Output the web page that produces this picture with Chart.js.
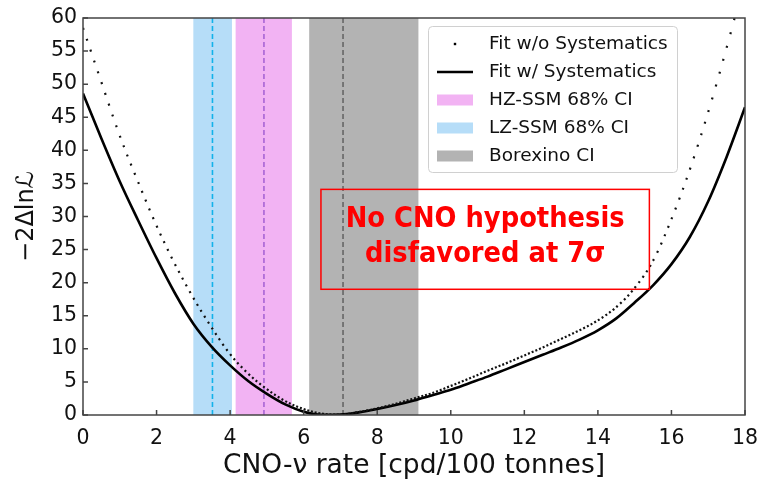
<!DOCTYPE html>
<html>
<head>
<meta charset="utf-8">
<title>CNO-nu likelihood profile</title>
<script src="https://cdn.jsdelivr.net/npm/chart.js@4.4.0/dist/chart.umd.min.js"></script>
<style>
  html, body { margin: 0; padding: 0; background: #fff; }
  #wrap { width: 761px; height: 480px; }
</style>
</head>
<body>
<div id="wrap"><canvas id="likelihoodChart" width="761" height="480"></canvas></div>
<script>
// CNO-nu rate grid [cpd/100 tonnes]
const rates = [0, 0.5, 1, 1.5, 2, 2.5, 3, 3.5, 4, 4.5, 5, 5.5, 6, 6.5, 7, 7.5, 8, 8.5, 9,
  9.5, 10, 10.5, 11, 11.5, 12, 12.5, 13, 13.5, 14, 14.5, 15, 15.5, 16, 16.5, 17, 17.5, 18];

// -2 Delta ln L profiles
const fitWithSyst = [48.6, 41.8, 35.3, 29.4, 23.7, 18.4, 13.8, 10.3, 7.5, 5.1, 3.2, 1.6, 0.5, 0.03,
  0.06, 0.4, 0.9, 1.5, 2.2, 3.0, 3.8, 4.8, 5.8, 6.9, 8.0, 9.1, 10.2, 11.4, 12.8, 14.6, 17.0,
  19.6, 22.8, 26.9, 32.3, 39.0, 46.5];
const fitWithoutSyst = [58.5, 50.3, 42.2, 35.2, 28.6, 22.8, 17.7, 13.2, 9.2, 6.2, 3.9, 2.1, 0.9, 0.2,
  0.05, 0.45, 1.0, 1.7, 2.5, 3.3, 4.4, 5.5, 6.7, 7.8, 9.0, 10.2, 11.5, 12.8, 14.3, 16.3, 19.2,
  23.3, 29.6, 37.1, 45.8, 55.5, 66.0];

// confidence intervals on the rate
const bandLabels = ['HZ-SSM 68% CI', 'LZ-SSM 68% CI', 'Borexino CI'];
const bandLow = [4.15, 3.0, 6.15];
const bandCentre = [4.92, 3.52, 7.07];
const bandHigh = [5.68, 4.05, 9.12];
const bandFill = ['#f2b3f3', '#b6ddf8', '#b3b3b3'];
const bandLine = ['#a865d4', '#12b2ea', '#666666'];

const xTicks = [0, 2, 4, 6, 8, 10, 12, 14, 16, 18];
const yTicks = [0, 5, 10, 15, 20, 25, 30, 35, 40, 45, 50, 55, 60];

const noteLines = ['No CNO hypothesis', 'disfavored at 7\u03c3'];
const noteBox = { x0: 6.47, x1: 15.4, y0: 19.0, y1: 34.1 };

const FONT = "'DejaVu Sans', sans-serif";
const DOTS_PER_STEP = 5; // markers every 0.1 of rate, grid step is 0.5

// shaded intervals and their central values, under the curves
const bandPlugin = {
  id: 'bands',
  beforeDatasetsDraw(chart) {
    const { ctx, chartArea: a, scales: { x } } = chart;
    ctx.save();
    bandLabels.forEach((_, i) => {
      const x0 = x.getPixelForValue(bandLow[i]);
      const x1 = x.getPixelForValue(bandHigh[i]);
      ctx.fillStyle = bandFill[i];
      ctx.fillRect(x0, a.top, x1 - x0, a.bottom - a.top);
    });
    ctx.lineWidth = 1.6;
    ctx.setLineDash([5, 3]);
    bandLabels.forEach((_, i) => {
      const xc = x.getPixelForValue(bandCentre[i]);
      ctx.strokeStyle = bandLine[i];
      ctx.beginPath();
      ctx.moveTo(xc, a.top);
      ctx.lineTo(xc, a.bottom);
      ctx.stroke();
    });
    ctx.restore();
  }
};

// box frame with inward ticks
const framePlugin = {
  id: 'frame',
  afterDatasetsDraw(chart) {
    const { ctx, chartArea: a, scales: { x, y } } = chart;
    ctx.save();
    ctx.strokeStyle = '#444';
    ctx.lineWidth = 1.5;
    ctx.strokeRect(a.left, a.top, a.right - a.left, a.bottom - a.top);
    ctx.beginPath();
    x.ticks.forEach(t => {
      const px = x.getPixelForValue(t.value);
      ctx.moveTo(px, a.bottom);
      ctx.lineTo(px, a.bottom - 5);
    });
    y.ticks.forEach(t => {
      const py = y.getPixelForValue(t.value);
      ctx.moveTo(a.left, py);
      ctx.lineTo(a.left + 5, py);
    });
    ctx.stroke();
    ctx.restore();
  }
};

// legend in the upper right and the red note box
const overlayPlugin = {
  id: 'overlay',
  afterDraw(chart) {
    const { ctx, chartArea: a, scales: { x, y } } = chart;
    const ds = chart.data.datasets;
    ctx.save();

    const lx = a.right - 317, ly = a.top + 8, lw = 249, lh = 146;
    ctx.fillStyle = 'rgba(255,255,255,0.85)';
    ctx.strokeStyle = '#d0d0d0';
    ctx.lineWidth = 1;
    ctx.beginPath();
    ctx.roundRect(lx + 0.5, ly + 0.5, lw, lh, 4);
    ctx.fill();
    ctx.stroke();

    const rows = [ds[0].label, ds[1].label, ...bandLabels];
    const hx = lx + 9, hw = 36;
    ctx.font = '18.5px ' + FONT;
    ctx.textBaseline = 'middle';
    ctx.textAlign = 'left';
    rows.forEach((label, i) => {
      const ry = ly + 18 + i * 28;
      if (i === 0) {
        ctx.fillStyle = '#000';
        ctx.fillRect(hx + hw / 2 - 1.2, ry - 1.2, 2.4, 2.4);
      } else if (i === 1) {
        ctx.strokeStyle = '#000';
        ctx.lineWidth = 2.6;
        ctx.beginPath();
        ctx.moveTo(hx, ry);
        ctx.lineTo(hx + hw, ry);
        ctx.stroke();
      } else {
        ctx.fillStyle = bandFill[i - 2];
        ctx.fillRect(hx, ry - 5.5, hw, 11);
      }
      ctx.fillStyle = '#111';
      ctx.fillText(label, lx + 61, ry);
    });

    const bx0 = x.getPixelForValue(noteBox.x0), bx1 = x.getPixelForValue(noteBox.x1);
    const by0 = y.getPixelForValue(noteBox.y1), by1 = y.getPixelForValue(noteBox.y0);
    ctx.strokeStyle = '#ff0000';
    ctx.lineWidth = 1.5;
    ctx.strokeRect(bx0, by0, bx1 - bx0, by1 - by0);
    ctx.fillStyle = '#ff0000';
    ctx.font = 'bold 29px ' + FONT;
    ctx.textAlign = 'center';
    ctx.textBaseline = 'alphabetic';
    noteLines.forEach((line, i) => {
      ctx.save();
      ctx.translate((bx0 + bx1) / 2, by0 + 38 + i * 35);
      ctx.scale(0.89, 1);
      ctx.fillText(line, 0, 0);
      ctx.restore();
    });
    ctx.restore();
  }
};

const toPoints = vals => rates.map((r, i) => ({ x: r, y: vals[i] }));

new Chart(document.getElementById('likelihoodChart'), {
  type: 'line',
  data: {
    datasets: [
      {
        label: 'Fit w/o Systematics',
        data: toPoints(fitWithoutSyst),
        borderColor: '#111',
        borderWidth: 2.2,
        borderCapStyle: 'butt',
        pointRadius: 0,
        cubicInterpolationMode: 'monotone',
        segment: {
          // one marker per 0.1 of rate, whatever the slope
          borderDash: c => {
            const len = Math.hypot(c.p1.x - c.p0.x, c.p1.y - c.p0.y) / DOTS_PER_STEP;
            return [2, Math.max(len - 2, 1.6)];
          }
        }
      },
      {
        label: 'Fit w/ Systematics',
        data: toPoints(fitWithSyst),
        borderColor: '#000',
        borderWidth: 2.6,
        pointRadius: 0,
        cubicInterpolationMode: 'monotone'
      }
    ]
  },
  options: {
    responsive: false,
    animation: false,
    devicePixelRatio: 1,
    layout: { padding: { top: 18, right: 16, left: 0, bottom: 0 } },
    plugins: { legend: { display: false }, tooltip: { enabled: false } },
    scales: {
      x: {
        type: 'linear',
        min: 0,
        max: 18,
        afterBuildTicks: s => { s.ticks = xTicks.map(v => ({ value: v })); },
        afterFit: s => { s.height = 65; s.paddingLeft = 0; s.paddingRight = 0; },
        grid: { display: false, drawTicks: false },
        border: { display: false },
        ticks: { font: { family: FONT, size: 20.5 }, color: '#111', padding: 11, maxRotation: 0, autoSkip: false },
        title: {
          display: true,
          text: 'CNO-\u03bd rate [cpd/100 tonnes]',
          font: { family: FONT, size: 26.5, lineHeight: 1 },
          color: '#111',
          padding: { top: 0, bottom: 1 }
        }
      },
      y: {
        min: 0,
        max: 60,
        afterBuildTicks: s => { s.ticks = yTicks.map(v => ({ value: v })); },
        afterFit: s => { s.width = 83; s.paddingTop = 0; s.paddingBottom = 0; },
        grid: { display: false, drawTicks: false },
        border: { display: false },
        ticks: { font: { family: FONT, size: 20.5 }, color: '#111', padding: 6, autoSkip: false },
        title: {
          display: true,
          text: '\u22122\u0394ln\u2112',
          font: { family: FONT, size: 24, lineHeight: 1 },
          color: '#111',
          padding: { top: 15, bottom: 0 }
        }
      }
    }
  },
  plugins: [bandPlugin, framePlugin, overlayPlugin]
});
</script>
</body>
</html>
